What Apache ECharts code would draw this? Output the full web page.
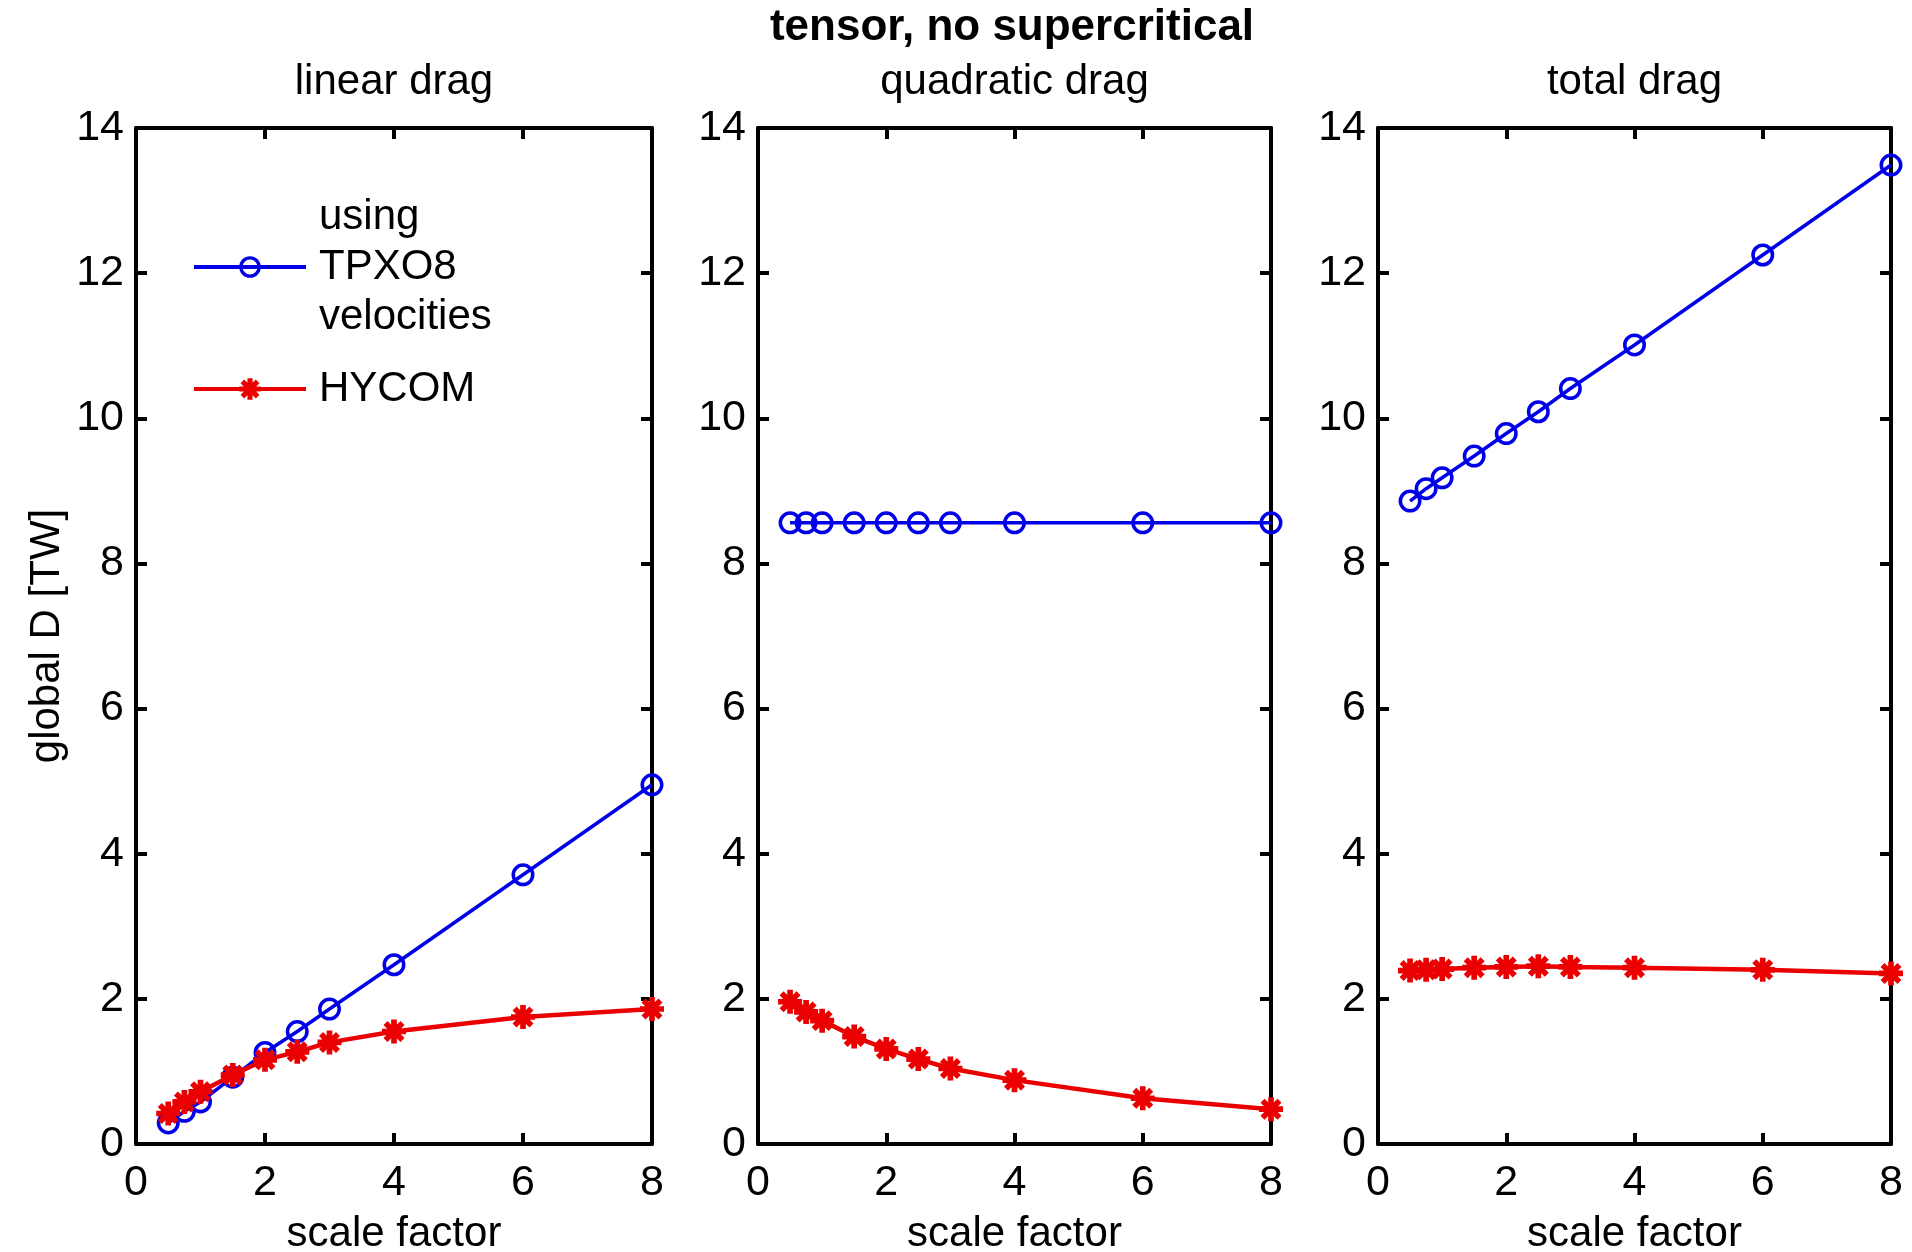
<!DOCTYPE html>
<html><head><meta charset="utf-8">
<script src="https://cdn.jsdelivr.net/npm/echarts@6/dist/echarts.min.js"></script>
<style>html,body{margin:0;padding:0;background:#fff}#c{width:1912px;height:1252px}</style>
</head><body><div id="c"></div>
<script>
// ---- data ----
const scaleFactor = [0.5, 0.75, 1, 1.5, 2, 2.5, 3, 4, 6, 8];
const linearTPXO8 = [0.29, 0.45, 0.58, 0.92, 1.26, 1.55, 1.86, 2.47, 3.71, 4.95];
const linearHYCOM = [0.42, 0.58, 0.72, 0.95, 1.16, 1.27, 1.40, 1.55, 1.75, 1.86];
const quadTPXO8 = [8.56, 8.56, 8.56, 8.56, 8.56, 8.56, 8.56, 8.56, 8.56, 8.56];
const quadHYCOM = [1.96, 1.82, 1.70, 1.48, 1.31, 1.17, 1.04, 0.88, 0.63, 0.48];
const totalTPXO8 = [8.86, 9.03, 9.18, 9.48, 9.79, 10.09, 10.41, 11.01, 12.25, 13.49];
const totalHYCOM = [2.39, 2.40, 2.41, 2.43, 2.44, 2.45, 2.44, 2.43, 2.40, 2.35];
const panelTitles = ['linear drag', 'quadratic drag', 'total drag'];
const mainTitle = 'tensor, no supercritical';
const xAxisName = 'scale factor';
const yAxisName = 'global D [TW]';
const seriesNames = ['TPXO8', 'HYCOM'];
const legendLabels = ['using\nTPXO8\nvelocities', 'HYCOM'];
const xRange = [0, 8, 2];
const yRange = [0, 14, 2];

// ---- styling ----
const FONT = "'Liberation Sans', Arial, Helvetica, sans-serif";
const BLUE = '#0000e8';
const RED = '#ea0000';
const RING = 'path://M0,-11A11,11,0,1,1,0,11A11,11,0,1,1,0,-11ZM0,-7.6A7.6,7.6,0,1,0,0,7.6A7.6,7.6,0,1,0,0,-7.6Z';
const STAR = 'path://M-11,-2.6L11,-2.6L11,2.6L-11,2.6Z M2.6,-11L2.6,11L-2.6,11L-2.6,-11Z ' +
  'M-5.94,-9.62L9.62,5.94L5.94,9.62L-9.62,-5.94Z ' +
  'M-9.62,5.94L5.94,-9.62L9.62,-5.94L-5.94,9.62Z';

const grids = [
  {left: 136, top: 128, width: 516, height: 1016, outerBoundsMode: 'none', containLabel: false},
  {left: 758, top: 128, width: 513, height: 1016, outerBoundsMode: 'none', containLabel: false},
  {left: 1378, top: 128, width: 513, height: 1016, outerBoundsMode: 'none', containLabel: false}
];
const panelData = [
  [linearTPXO8, linearHYCOM],
  [quadTPXO8, quadHYCOM],
  [totalTPXO8, totalHYCOM]
];

const axisLine = {show: true, onZero: false, lineStyle: {color: '#000', width: 4}};
const axisTick = {show: true, inside: true, length: 11, lineStyle: {color: '#000', width: 4}};
const labelStyle = {color: '#000', fontSize: 42, fontFamily: FONT};
const tickStyle = {color: '#000', fontSize: 43, fontFamily: FONT};

const xAxes = [], yAxes = [], series = [], titles = [];
titles.push({text: mainTitle, left: 1012, top: 6, textAlign: 'center', padding: 0,
  textStyle: {fontSize: 44, fontWeight: 'bold', color: '#000', fontFamily: FONT}});

grids.forEach((g, i) => {
  titles.push({text: panelTitles[i], left: g.left + g.width / 2, top: 61, textAlign: 'center', padding: 0,
    textStyle: {fontSize: 42, fontWeight: 'normal', color: '#000', fontFamily: FONT}});
  xAxes.push({gridIndex: i, type: 'value', position: 'bottom', min: xRange[0], max: xRange[1], interval: xRange[2],
    axisLine, axisTick, splitLine: {show: false},
    axisLabel: Object.assign({margin: 18}, tickStyle),
    name: xAxisName, nameLocation: 'middle', nameGap: 69, nameTextStyle: labelStyle});
  xAxes.push({gridIndex: i, type: 'value', position: 'top', min: xRange[0], max: xRange[1], interval: xRange[2],
    axisLine, axisTick, splitLine: {show: false}, axisLabel: {show: false}});
  const yMain = {gridIndex: i, type: 'value', position: 'left', min: yRange[0], max: yRange[1], interval: yRange[2],
    axisLine, axisTick, splitLine: {show: false},
    axisLabel: Object.assign({margin: 12}, tickStyle)};
  if (i === 0) {
    Object.assign(yMain, {name: yAxisName, nameLocation: 'middle', nameGap: 68, nameRotate: 90, nameTextStyle: labelStyle});
  }
  yAxes.push(yMain);
  yAxes.push({gridIndex: i, type: 'value', position: 'right', min: yRange[0], max: yRange[1], interval: yRange[2],
    axisLine, axisTick, splitLine: {show: false}, axisLabel: {show: false}});

  const [tp, hy] = panelData[i];
  series.push({
    name: seriesNames[0], type: 'line', xAxisIndex: 2 * i, yAxisIndex: 2 * i, clip: false,
    data: scaleFactor.map((x, k) => [x, tp[k]]),
    symbol: RING, symbolSize: 23, showAllSymbol: true,
    lineStyle: {color: BLUE, width: 3.5}, itemStyle: {color: BLUE}, z: 3
  });
  series.push({
    name: seriesNames[1], type: 'line', xAxisIndex: 2 * i, yAxisIndex: 2 * i, clip: false,
    data: scaleFactor.map((x, k) => [x, hy[k]]),
    symbol: STAR, symbolSize: 24, showAllSymbol: true,
    lineStyle: {color: RED, width: 4.5}, itemStyle: {color: RED}, z: 4
  });
});

const chart = echarts.init(document.getElementById('c'), null, {renderer: 'canvas'});
chart.setOption({
  animation: false,
  backgroundColor: '#fff',
  title: titles,
  grid: grids,
  xAxis: xAxes,
  yAxis: yAxes,
  legend: {
    left: 192, top: 192, orient: 'vertical', padding: 0,
    itemWidth: 112, itemHeight: 27, itemGap: 22, selectedMode: false,
    data: seriesNames,
    lineStyle: {width: 4},
    formatter: n => legendLabels[seriesNames.indexOf(n)],
    textStyle: {fontSize: 42, lineHeight: 50, color: '#000', fontFamily: FONT, padding: [0, 0, 0, 8]}
  },
  series
});
</script></body></html>
